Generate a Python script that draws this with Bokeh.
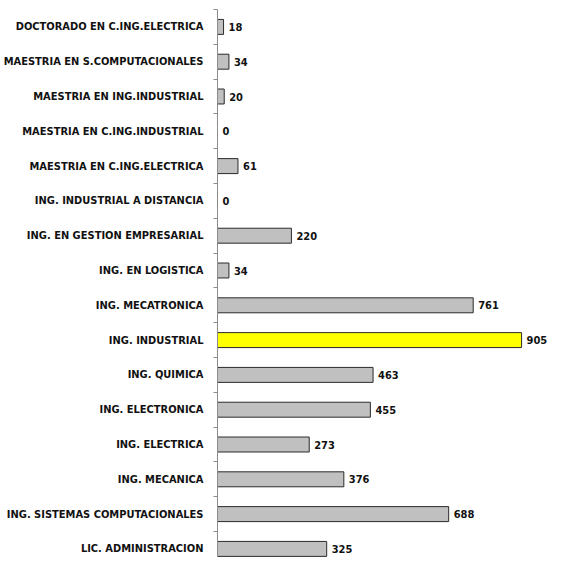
from bokeh.plotting import figure
from bokeh.models import ColumnDataSource, Range1d, FixedTicker
from bokeh.core.properties import value
from bokeh.embed import file_html
from bokeh.resources import INLINE

carreras = [
    "DOCTORADO EN C.ING.ELECTRICA",
    "MAESTRIA EN S.COMPUTACIONALES",
    "MAESTRIA EN ING.INDUSTRIAL",
    "MAESTRIA EN C.ING.INDUSTRIAL",
    "MAESTRIA EN C.ING.ELECTRICA",
    "ING. INDUSTRIAL A DISTANCIA",
    "ING. EN GESTION EMPRESARIAL",
    "ING. EN LOGISTICA",
    "ING. MECATRONICA",
    "ING. INDUSTRIAL",
    "ING. QUIMICA",
    "ING. ELECTRONICA",
    "ING. ELECTRICA",
    "ING. MECANICA",
    "ING. SISTEMAS COMPUTACIONALES",
    "LIC. ADMINISTRACION",
]
alumnos = [18, 34, 20, 0, 61, 0, 220, 34, 761, 905, 463, 455, 273, 376, 688, 325]
destacada = "ING. INDUSTRIAL"

n = len(carreras)
pos = [n - 1 - i for i in range(n)]
colores = ["#FFFF00" if c == destacada else "#C0C0C0" for c in carreras]
src = ColumnDataSource(dict(y=pos, v=alumnos, c=colores,
                            t=[str(a) for a in alumnos]))

FONT = "DejaVu Sans Condensed"

p = figure(width=553, height=557, output_backend="svg", toolbar_location=None,
           x_range=Range1d(0, 1000), y_range=Range1d(-0.247, n - 0.5),
           min_border_left=214, min_border_top=9, min_border_bottom=0,
           min_border_right=0)
p.outline_line_color = None
p.xgrid.visible = False
p.ygrid.visible = False
p.xaxis.visible = False

p.hbar(y="y", right="v", left=0, height=0.43, fill_color="c",
       line_color="#2b2b2b", line_width=1, source=src)
p.text(x="v", y="y", text="t", x_offset=5, text_align="left",
       text_baseline="middle", text_font=value(FONT), text_font_style="bold",
       text_font_size="11px", text_color="#111111", source=src)

ya = p.yaxis[0]
ya.ticker = FixedTicker(ticks=pos, minor_ticks=[k - 0.5 for k in range(n + 1)])
ya.major_label_overrides = {pp: c for pp, c in zip(pos, carreras)}
ya.major_tick_out = 0
ya.major_tick_in = 0
ya.minor_tick_out = 4
ya.minor_tick_in = 0
ya.minor_tick_line_color = "#8c8c8c"
ya.axis_line_color = "#8c8c8c"
ya.major_label_standoff = 10
ya.major_label_text_font = FONT
ya.major_label_text_font_style = "bold"
ya.major_label_text_font_size = "11px"
ya.major_label_text_color = "#111111"

open("out.html", "w").write(file_html(p, INLINE))
